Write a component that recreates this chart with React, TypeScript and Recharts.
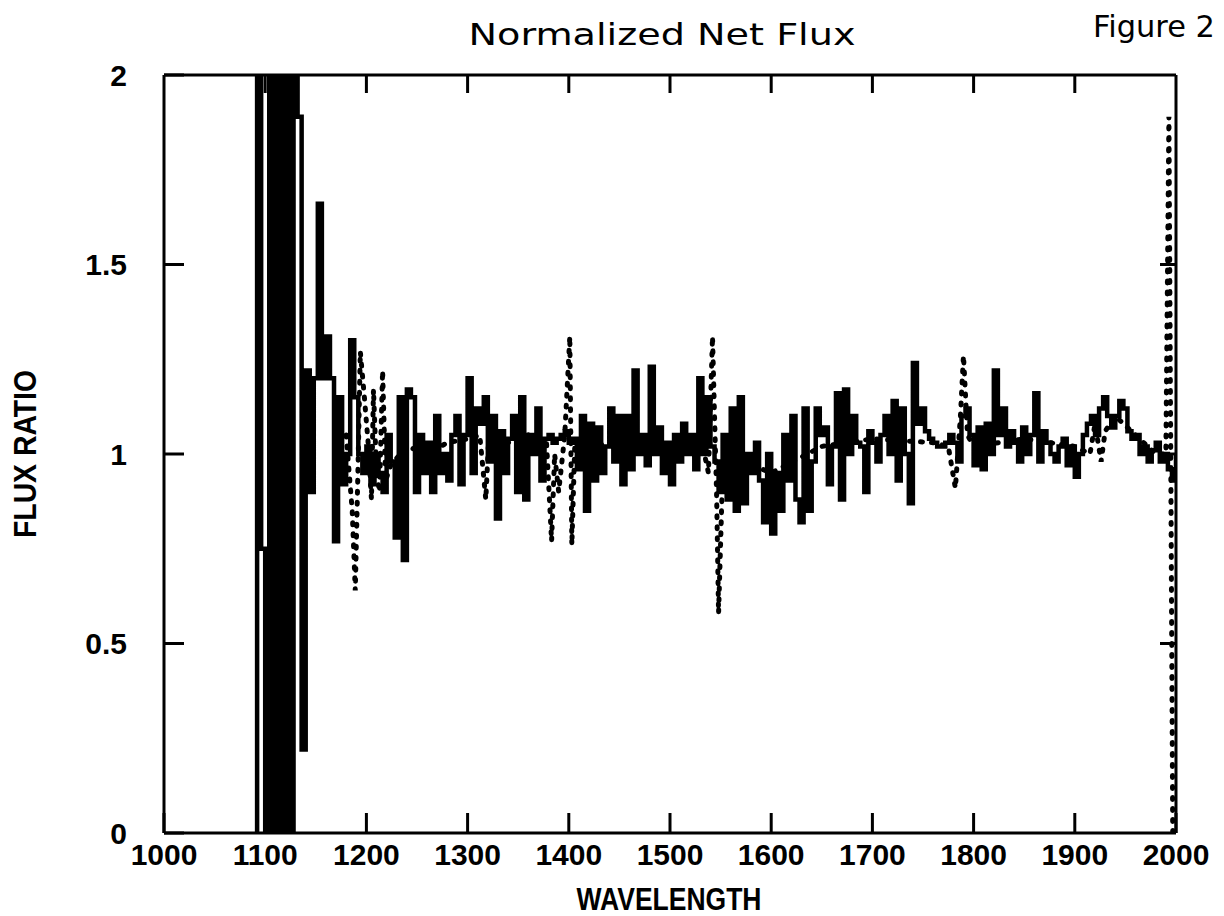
import React from 'react';
import { LineChart, Line, XAxis, YAxis } from 'recharts';

// ─── Data ────────────────────────────────────────────────────────────────────

const X_TICKS = [1000, 1100, 1200, 1300, 1400, 1500, 1600, 1700, 1800, 1900, 2000];
const Y_TICKS = [0, 0.5, 1, 1.5, 2];
const TOP_TICKS = [1100, 1200, 1300, 1400, 1500, 1600, 1700, 1800, 1900];
const RIGHT_TICKS = [0.5, 1, 1.5];

// solid curve: sampled every 4 Å from 1088 Å
const SOLID_START = 1088;
const SOLID_STEP = 4;
const solidFlux = [
  -0.5, 2.5, 0.75, -0.5, 2.5, -0.5, 2.5, -0.5, 2.5, -0.5, 2.5, 1.89, 0.22,
  1.22, 0.9, 1.2, 1.66, 1.2, 1.31, 1.2, 0.77, 1.15, 0.92, 1.0, 1.3, 1.15, 1.0, 0.95,
  1.02, 0.92, 1.0, 0.95, 0.9, 1.05, 0.98, 0.78, 1.15, 0.72, 1.17, 1.15, 0.9, 1.05,
  0.95, 1.03, 0.9, 1.1, 0.95, 1.0, 0.93, 1.05, 1.1, 0.92, 1.05,
  1.2, 0.95, 1.12, 1.08, 1.15, 0.98, 1.1, 0.83, 1.06, 0.95, 1.04, 1.1, 0.9, 1.15,
  0.88, 1.05, 1.0, 1.12, 0.93, 1.04, 1.05, 1.03, 1.04, 1.05, 1.06,
  1.03, 1.04, 0.96, 1.1, 0.85, 1.08, 0.93, 1.07, 0.95, 1.02, 1.12, 0.98, 1.1, 0.92,
  1.1, 0.96, 1.22, 1.0, 1.05, 0.97, 1.23, 1.0, 1.07, 0.95, 1.03,
  0.92, 1.05, 0.98, 1.08, 1.0, 1.05, 0.96, 1.2, 1.0, 1.15, 1.02, 0.98, 0.9, 1.05,
  0.88, 1.12, 0.85, 1.15, 0.87, 1.0, 0.95, 1.03, 0.93, 0.82, 1.0,
  0.79, 0.95, 0.85, 1.05, 0.93, 1.1, 0.88, 0.82, 1.12, 0.85, 0.98, 1.12, 1.05, 1.07,
  0.92, 1.02, 1.16, 0.88, 1.17, 1.0, 1.1, 1.03, 1.02, 0.9, 1.06,
  1.03, 0.98, 1.05, 1.1, 1.0, 1.14, 0.93, 1.12, 1.0, 0.87, 1.24, 1.08, 1.12, 1.06,
  1.04, 1.03, 1.02, 1.02, 1.03, 1.05, 1.03, 0.98, 1.1, 1.12, 1.05,
  0.97, 1.07, 0.96, 1.08, 1.0, 1.22, 1.05, 1.12, 1.02, 1.06, 1.03, 0.98, 1.07, 1.0,
  1.05, 1.16, 0.98, 1.06, 1.03, 1.0, 0.98, 1.02, 1.04, 0.97, 1.02,
  0.94, 1.0, 1.05, 1.08, 1.1, 1.05, 1.12, 1.15, 1.1, 1.07, 1.1, 1.14, 1.12, 1.06,
  1.04, 1.05, 1.0, 1.02, 0.98, 1.01, 1.03, 0.98, 1.0, 0.96, 0.93, 1.0,
];

// dotted curve: irregular sampling around the line features
const dottedWave = [
  1180, 1186, 1189, 1192, 1194, 1198, 1202, 1205, 1207, 1210, 1213, 1216, 1219, 1224,
  1240, 1260, 1280, 1300, 1312, 1318, 1321, 1340, 1360, 1378, 1383, 1386, 1390, 1396,
  1401, 1403, 1406, 1420, 1450, 1480, 1500, 1520, 1530, 1538, 1542, 1544, 1546, 1548,
  1552, 1556, 1600, 1650, 1700, 1760, 1775, 1782, 1787, 1790, 1794, 1800, 1850, 1900,
  1915, 1920, 1926, 1930, 1940, 1960, 1980, 1990, 1993, 1995, 1997,
];
const dottedFlux = [
  1.05, 0.85, 0.64, 1.0, 1.27, 1.15, 1.02, 0.88, 1.17, 0.95, 0.9, 1.22, 0.93, 0.97,
  1.02, 1.0, 1.03, 1.04, 1.05, 0.88, 1.05, 1.03, 1.05, 1.03, 0.77, 1.0, 0.9, 1.05,
  1.31, 0.76, 1.03, 1.02, 1.03, 1.04, 1.02, 1.02, 1.05, 0.95, 1.31, 1.1, 0.9, 0.58,
  0.95, 1.0, 0.95, 1.02, 1.04, 1.03, 1.02, 0.91, 1.1, 1.26, 1.05, 1.02, 1.04, 1.02,
  1.0, 1.08, 0.98, 1.06, 1.1, 1.05, 1.0, 1.0, 1.89, 0.9, -0.1,
];

const solidData = solidFlux.map((flux, i) => ({ w: SOLID_START + i * SOLID_STEP, flux }));
const dottedData = dottedWave.map((w, i) => ({ w, flux: dottedFlux[i] }));

// ─── Styles ──────────────────────────────────────────────────────────────────

const INK = '#000000';
const TICK_FONT = "'Liberation Sans', Arial, sans-serif";
const TITLE_FONT = "'DejaVu Sans', 'Noto Sans', sans-serif";

const TICK_LEN = 20;
const BOTTOM_GAP = 10; // axis line -> top of bottom labels
const LEFT_GAP = 37; // axis line -> right edge of left labels

const labelStyle = {
  fill: INK,
  fontSize: 30,
  fontWeight: 700,
  fontFamily: TICK_FONT,
};

const axisStroke = { stroke: INK, strokeWidth: 3 };

// ─── Inward-pointing ticks ───────────────────────────────────────────────────

const BottomTick = (props: any) => {
  const { x, y, payload } = props;
  const axisY = y - BOTTOM_GAP;
  return (
    <g>
      <line x1={x} x2={x} y1={axisY} y2={axisY - TICK_LEN} stroke={INK} strokeWidth={3} />
      <text x={x} y={y} dy="0.72em" textAnchor="middle" {...labelStyle}>
        {payload.value}
      </text>
    </g>
  );
};

const LeftTick = (props: any) => {
  const { x, y, payload } = props;
  const axisX = x + LEFT_GAP;
  return (
    <g>
      <line x1={axisX} x2={axisX + TICK_LEN} y1={y} y2={y} stroke={INK} strokeWidth={3} />
      <text x={x} y={y} dy="0.36em" textAnchor="end" {...labelStyle}>
        {payload.value}
      </text>
    </g>
  );
};

const TopTick = (props: any) => {
  const { x, y } = props;
  return <line x1={x} x2={x} y1={y} y2={y + 18} stroke={INK} strokeWidth={3} />;
};

const RightTick = (props: any) => {
  const { x, y } = props;
  return <line x1={x} x2={x - 16} y1={y} y2={y} stroke={INK} strokeWidth={3} />;
};

const W = 1224;
const H = 916;

const App: React.FC = () => {
  return (
    <div style={{ position: 'absolute', left: 0, top: 0, width: W, height: H, background: '#fff' }}>
      <LineChart
        width={W}
        height={H}
        margin={{ top: 70, right: 43, bottom: 0, left: 0 }}
      >
        <XAxis
          dataKey="w"
          type="number"
          domain={[1000, 2000]}
          ticks={X_TICKS}
          allowDataOverflow
          height={83}
          tickSize={0}
          tickMargin={BOTTOM_GAP}
          tickLine={false}
          axisLine={axisStroke}
          tick={BottomTick}
          interval={0}
        />
        <XAxis
          xAxisId="top"
          orientation="top"
          dataKey="w"
          type="number"
          domain={[1000, 2000]}
          ticks={TOP_TICKS}
          allowDataOverflow
          height={5}
          tickSize={0}
          tickMargin={0}
          tickLine={false}
          axisLine={axisStroke}
          tick={TopTick}
          interval={0}
        />
        <YAxis
          type="number"
          domain={[0, 2]}
          ticks={Y_TICKS}
          allowDataOverflow
          width={164}
          tickSize={0}
          tickMargin={LEFT_GAP}
          tickLine={false}
          axisLine={axisStroke}
          tick={LeftTick}
          interval={0}
        />
        <YAxis
          yAxisId="right"
          orientation="right"
          type="number"
          domain={[0, 2]}
          ticks={RIGHT_TICKS}
          allowDataOverflow
          width={5}
          tickSize={0}
          tickMargin={0}
          tickLine={false}
          axisLine={axisStroke}
          tick={RightTick}
          interval={0}
        />

        <Line
          data={dottedData}
          xAxisId="top"
          yAxisId="right"
          dataKey="flux"
          type="linear"
          stroke={INK}
          strokeWidth={5}
          strokeDasharray="2 9"
          strokeLinecap="round"
          dot={false}
          activeDot={false}
          isAnimationActive={false}
        />
        <Line
          data={solidData}
          dataKey="flux"
          type="stepAfter"
          stroke={INK}
          strokeWidth={4.5}
          dot={false}
          activeDot={false}
          isAnimationActive={false}
        />
      </LineChart>

      {/* titles drawn as text over the chart */}
      <svg
        width={W}
        height={H}
        style={{ position: 'absolute', left: 0, top: 0, pointerEvents: 'none' }}
      >
        <text
          x={662}
          y={45}
          textAnchor="middle"
          fontFamily={TITLE_FONT}
          fontSize={31}
          textLength={387}
          lengthAdjust="spacingAndGlyphs"
          fill={INK}
        >
          Normalized Net Flux
        </text>
        <text
          x={1154}
          y={37}
          textAnchor="middle"
          fontFamily={TITLE_FONT}
          fontSize={30}
          textLength={122}
          lengthAdjust="spacingAndGlyphs"
          fill={INK}
        >
          Figure 2
        </text>
        <text
          x={669}
          y={910}
          textAnchor="middle"
          fontFamily={TICK_FONT}
          fontWeight={700}
          fontSize={31}
          textLength={185}
          lengthAdjust="spacingAndGlyphs"
          fill={INK}
        >
          WAVELENGTH
        </text>
        <text
          x={0}
          y={0}
          transform="translate(36 454) rotate(-90)"
          textAnchor="middle"
          fontFamily={TICK_FONT}
          fontWeight={700}
          fontSize={31}
          textLength={168}
          lengthAdjust="spacingAndGlyphs"
          fill={INK}
        >
          FLUX RATIO
        </text>
      </svg>
    </div>
  );
};

export default App;
